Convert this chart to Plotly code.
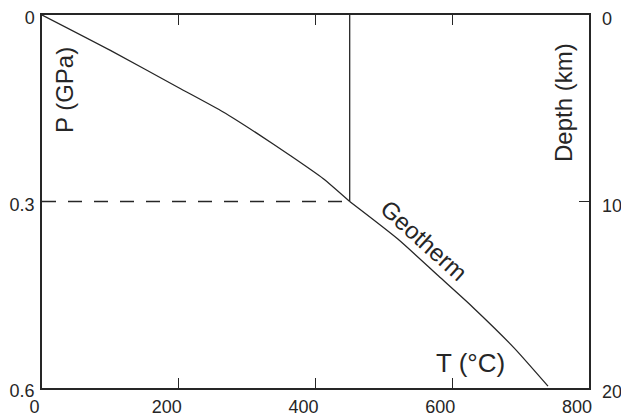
import plotly.graph_objects as go

# Geotherm (T in °C, P in GPa): upper part down to the reference point, then lower part
geo_T = [0, 100, 200, 265, 314, 363, 411, 450, 520, 580, 630, 690, 740]
geo_P = [0, 0.057, 0.117, 0.156, 0.190, 0.226, 0.263, 0.300, 0.360, 0.420, 0.470, 0.535, 0.597]
kink_index = 7

# Reference point
ref_T = 450
ref_P = 0.3

x_ticks = [0, 200, 400, 600, 800]
x_labels = ["\u20020", "200", "400", "600", "800"]
p_ticks = [0, 0.3, 0.6]
p_labels = ["0", "0.3", "0.6"]
depth_ticks = [0, 10, 20]

FONT = "Liberation Sans"
INK = "#262626"

fig = go.Figure()
fig.add_trace(go.Scatter(x=geo_T[:kink_index + 1], y=geo_P[:kink_index + 1], mode="lines",
                         line=dict(color=INK, width=1.3, shape="spline", smoothing=0.6),
                         showlegend=False))
fig.add_trace(go.Scatter(x=geo_T[kink_index:], y=geo_P[kink_index:], mode="lines",
                         line=dict(color=INK, width=1.3, shape="spline", smoothing=0.6),
                         showlegend=False))
fig.add_trace(go.Scatter(x=[ref_T, ref_T], y=[0, ref_P], mode="lines",
                         line=dict(color=INK, width=1.3), showlegend=False))
fig.add_trace(go.Scatter(x=[0, ref_T], y=[ref_P, ref_P], mode="lines",
                         line=dict(color=INK, width=1.3, dash="14px,12px"), showlegend=False))
# invisible trace to activate the depth axis
fig.add_trace(go.Scatter(x=[0], y=[0], yaxis="y2", mode="markers",
                         marker=dict(opacity=0), showlegend=False, hoverinfo="skip"))

fig.update_layout(
    width=621, height=420,
    margin=dict(l=42, r=32, t=15, b=32),
    paper_bgcolor="white", plot_bgcolor="white",
    font=dict(family=FONT, color=INK, size=18),
    xaxis=dict(range=[0, 800], tickvals=x_ticks, ticktext=x_labels, ticks="inside",
               ticklen=10, tickcolor=INK, tickwidth=1.2, showline=True, linecolor=INK,
               linewidth=1.5, mirror="ticks", showgrid=False, zeroline=False,
               ticklabelshift=-12, ticklabelstandoff=2, automargin=False),
    yaxis=dict(range=[0.6, 0], tickvals=p_ticks, ticktext=p_labels, ticks="inside",
               ticklen=10, tickcolor=INK, tickwidth=1.2, showline=True,
               linecolor=INK, linewidth=1.5, mirror=True, showgrid=False,
               zeroline=False, ticklabelstandoff=2, ticklabelshift=-3, automargin=False),
    yaxis2=dict(range=[20, 0], tickvals=depth_ticks, overlaying="y", side="right",
                ticks="inside", ticklen=10, tickcolor=INK, tickwidth=1.2,
                showline=False, showgrid=False, zeroline=False,
                ticklabelstandoff=12, ticklabelshift=-4, automargin=False),
)

ann_font = dict(family=FONT, color=INK, size=24)
fig.add_annotation(x=32, y=0.121, xref="x", yref="y", text="P (GPa)", textangle=-90,
                   showarrow=False, font=ann_font)
fig.add_annotation(x=762, y=0.1416, xref="x", yref="y", text="Depth (km)", textangle=-90,
                   showarrow=False, font=ann_font)
fig.add_annotation(x=559, y=0.362, xref="x", yref="y", text="Geotherm", textangle=42,
                   showarrow=False, font=ann_font)
fig.add_annotation(x=627, y=0.559, xref="x", yref="y", text="T (°C)",
                   showarrow=False, font=dict(family=FONT, color=INK, size=26))

fig.write_html("out.html")
